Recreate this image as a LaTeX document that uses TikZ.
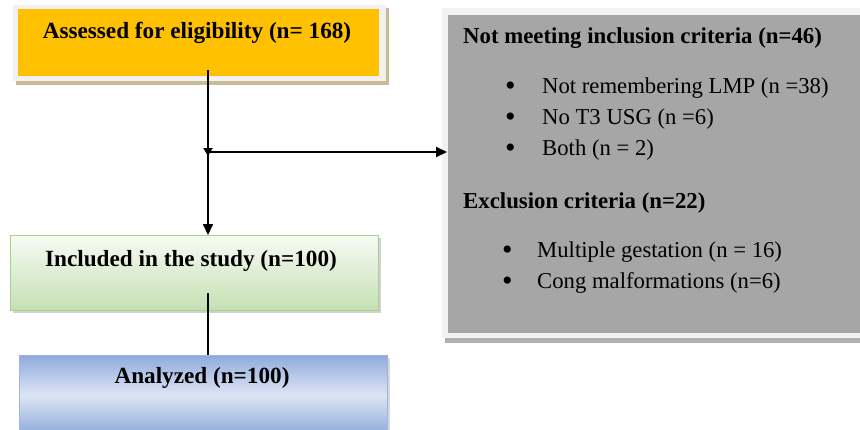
\documentclass[tikz,border=0pt]{standalone}
\usepackage{fontspec}
\setmainfont{Liberation Serif}
\usetikzlibrary{arrows.meta}
\definecolor{orangeF}{HTML}{FFC000}
\definecolor{tanShadow}{HTML}{C9BC95}
\definecolor{frameGrey}{HTML}{F2F2F2}
\definecolor{greyF}{HTML}{A6A6A6}
\definecolor{greyShadow}{HTML}{B0B0B0}
\definecolor{greenTop}{HTML}{F6FBF3}
\definecolor{greenBot}{HTML}{C5E0B4}
\definecolor{greenLine}{HTML}{A9D18E}
\definecolor{blueDark}{HTML}{8FAADC}
\definecolor{blueLight}{HTML}{DDE5F4}
\definecolor{blueLine}{HTML}{9DB4DE}
\tikzset{
  boxshape/.style={rectangle, inner sep=0pt, outer sep=0pt},
  boldtxt/.style={font=\fontsize{23.2}{27}\selectfont\bfseries, inner sep=0pt, anchor=base},
  titletxt/.style={font=\fontsize{22.8}{27}\selectfont\bfseries, inner sep=0pt, anchor=base west},
  itemtxt/.style={font=\fontsize{22.7}{27}\selectfont, inner sep=0pt, anchor=base west},
  bullettxt/.style={font=\fontsize{30}{30}\selectfont, inner sep=0pt, anchor=base west},
  conn/.style={line width=2pt, black},
  tipbig/.style={-{Triangle[length=11pt,width=10pt]}},
  tipsmall/.style={-{Triangle[length=8pt,width=9pt]}}
}
\begin{document}
\begin{tikzpicture}[x=1pt,y=-1pt]
\useasboundingbox (0,0) rectangle (860,429);
\fill[white] (0,0) rectangle (860,429);

% ---- Assessed box
\fill[tanShadow] (16,8) rectangle (389,85);
\fill[frameGrey] (13,5) rectangle (386,81);
\node[boxshape, fill=orangeF, minimum width=361pt, minimum height=67pt] (assessed) at (198.5,42.5) {};
\node[boldtxt] (assessedtxt) at (197,38) {Assessed for eligibility (n= 168)};

% ---- Excluded box
\fill[greyShadow] (445,12) rectangle (862,343);
\fill[frameGrey] (442,8) rectangle (862,338);
\node[boxshape, fill=greyF, minimum width=414pt, minimum height=318pt] (excl) at (655,174) {};
\node[titletxt] (t1) at (463,43) {Not meeting inclusion criteria (n=46)};
\node[bullettxt] (b1) at (505,95) {\textbullet};
\node[itemtxt] (i1) at (542,93) {Not remembering LMP (n =38)};
\node[bullettxt] (b2) at (505,126) {\textbullet};
\node[itemtxt] (i2) at (542,124) {No T3 USG (n =6)};
\node[bullettxt] (b3) at (505,157) {\textbullet};
\node[itemtxt] (i3) at (542,155) {Both (n = 2)};
\node[titletxt] (t2) at (463,208) {Exclusion criteria (n=22)};
\node[bullettxt] (b4) at (502,259) {\textbullet};
\node[itemtxt] (i4) at (537,257) {Multiple gestation (n = 16)};
\node[bullettxt] (b5) at (502,290) {\textbullet};
\node[itemtxt] (i5) at (537,288) {Cong malformations (n=6)};

% ---- Included box
\fill[black!18] (13,238) rectangle (381,313);
\node[boxshape, top color=greenTop, bottom color=greenBot, draw=greenLine, line width=1pt, minimum width=368pt, minimum height=75pt] (incl) at (194,272.5) {};
\node[boldtxt] (incltxt) at (191,266) {Included in the study (n=100)};

% ---- Analyzed box
\fill[black!15] (22,358) rectangle (390,432);
\node[boxshape, shading angle=22, top color=blueDark, bottom color=blueDark, middle color=blueLight, draw=blueLine, line width=1pt, minimum width=368pt, minimum height=80pt] (anal) at (203,395) {};
\node[boldtxt] (analtxt) at (202,383) {Analyzed (n=100)};

% ---- connectors
\coordinate (start) at (208,70);
\coordinate (junc) at (208,152);
\coordinate (juncTip) at (208,156);
\coordinate (inclTop) at (208,235);
\coordinate (exclLeft) at (447,152);
\coordinate (inclLow) at (208,293);
\coordinate (analTop) at (208,355);
\draw[conn, tipsmall] (start) -- (juncTip);
\draw[conn, tipbig] (junc) -- (inclTop);
\draw[conn, tipbig] (junc) -- (exclLeft);
\draw[conn] (inclLow) -- (analTop);
\end{tikzpicture}
\end{document}
